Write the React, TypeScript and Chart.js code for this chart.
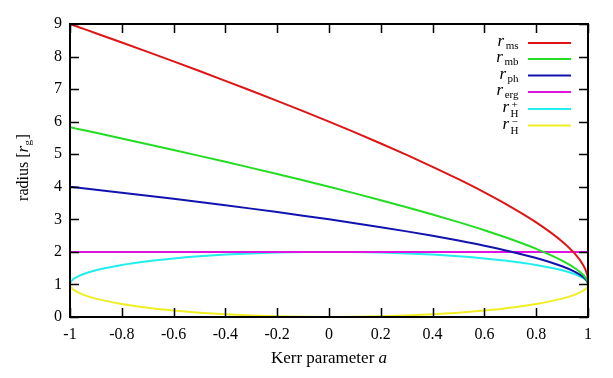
import { useEffect, useRef } from "react";
import { Chart, registerables } from "chart.js";

Chart.register(...registerables);

// Kerr spin parameter a
const spin = [
  -1, -0.999, -0.995, -0.99, -0.98, -0.95, -0.9, -0.8, -0.7, -0.6, -0.5, -0.4, -0.3, -0.2, -0.1,
  0, 0.1, 0.2, 0.3, 0.4, 0.5, 0.6, 0.7, 0.8, 0.9, 0.95, 0.98, 0.99, 0.995, 0.999, 1,
];
const rMs = [
  9, 8.997, 8.985, 8.972, 8.943, 8.858, 8.717, 8.432, 8.143, 7.851, 7.555, 7.254, 6.949, 6.639, 6.323,
  6, 5.669, 5.329, 4.979, 4.614, 4.233, 3.829, 3.393, 2.907, 2.321, 1.937, 1.614, 1.455, 1.34, 1.182, 1,
];
const rMb = [
  5.828, 5.827, 5.819, 5.811, 5.794, 5.743, 5.657, 5.483, 5.308, 5.13, 4.949, 4.766, 4.58, 4.391, 4.198,
  4, 3.797, 3.589, 3.373, 3.149, 2.914, 2.665, 2.395, 2.094, 1.732, 1.497, 1.303, 1.21, 1.146, 1.064, 1,
];
const rPh = [
  4, 3.999, 3.996, 3.991, 3.982, 3.955, 3.91, 3.819, 3.725, 3.63, 3.532, 3.432, 3.329, 3.223, 3.113,
  3, 2.882, 2.759, 2.63, 2.493, 2.347, 2.189, 2.013, 1.811, 1.558, 1.386, 1.24, 1.168, 1.118, 1.053, 1,
];
const rHPlus = [
  1, 1.045, 1.1, 1.141, 1.199, 1.312, 1.436, 1.6, 1.714, 1.8, 1.866, 1.917, 1.954, 1.98, 1.995,
  2, 1.995, 1.98, 1.954, 1.917, 1.866, 1.8, 1.714, 1.6, 1.436, 1.312, 1.199, 1.141, 1.1, 1.045, 1,
];
const rHMinus = [
  1, 0.955, 0.9, 0.859, 0.801, 0.688, 0.564, 0.4, 0.286, 0.2, 0.134, 0.083, 0.046, 0.02, 0.005,
  0, 0.005, 0.02, 0.046, 0.083, 0.134, 0.2, 0.286, 0.4, 0.564, 0.688, 0.801, 0.859, 0.9, 0.955, 1,
];
const ergSpin = [-1, 1];
const rErg = [2, 2];

const xTicks = [-1, -0.8, -0.6, -0.4, -0.2, 0, 0.2, 0.4, 0.6, 0.8, 1];
const yTicks = [0, 1, 2, 3, 4, 5, 6, 7, 8, 9];

const legendSubs = ["ms", "mb", "ph", "erg", "H", "H"];
const legendSups = ["", "", "", "", "+", "\u2212"];
const colors = ["#e01414", "#22dd22", "#1212b0", "#e014e0", "#22eeee", "#eeee22"];

const SERIF = '"Liberation Serif", "DejaVu Serif", serif';

const pts = (xs: number[], ys: number[]) => xs.map((x, i) => ({ x, y: ys[i] }));

function drawR(ctx: CanvasRenderingContext2D, xRight: number, y: number, sub: string, sup: string) {
  ctx.font = `italic 17px ${SERIF}`;
  const wr = ctx.measureText("r").width;
  ctx.font = `11px ${SERIF}`;
  const ws = Math.max(ctx.measureText(sub).width, sup ? ctx.measureText(sup).width : 0);
  const x0 = xRight - wr - ws - 1;
  ctx.textAlign = "left";
  ctx.textBaseline = "alphabetic";
  ctx.font = `italic 17px ${SERIF}`;
  ctx.fillText("r", x0, y + 3);
  ctx.font = `11px ${SERIF}`;
  const xs = x0 + wr + 1.5;
  if (sup) {
    const wsup = ctx.measureText(sup).width;
    const wsub = ctx.measureText(sub).width;
    ctx.fillText(sup, xs + (ws - wsup) / 2, y - 1);
    ctx.fillText(sub, xs + (ws - wsub) / 2, y + 8);
  } else {
    ctx.fillText(sub, xs, y + 6);
  }
}

const framePlugin = {
  id: "frame",
  afterDatasetsDraw(chart: any) {
    const { ctx, chartArea, scales } = chart;
    const { left, right, top, bottom } = chartArea;
    const xs = scales.x;
    const ys = scales.y;
    ctx.save();
    ctx.strokeStyle = "#000";
    ctx.lineWidth = 1.5;
    ctx.beginPath();
    for (const v of xTicks) {
      const px = Math.round(xs.getPixelForValue(v)) + 0.5;
      ctx.moveTo(px, bottom);
      ctx.lineTo(px, bottom - 9);
      ctx.moveTo(px, top);
      ctx.lineTo(px, top + 9);
    }
    for (const v of yTicks) {
      const py = Math.round(ys.getPixelForValue(v)) + 0.5;
      ctx.moveTo(left, py);
      ctx.lineTo(left + 9, py);
      ctx.moveTo(right, py);
      ctx.lineTo(right - 9, py);
    }
    ctx.stroke();
    ctx.lineWidth = 2;
    ctx.strokeRect(left, top, right - left, bottom - top);

    // legend
    ctx.fillStyle = "#000";
    const rows = [43, 59, 75.5, 92, 109, 125.5];
    rows.forEach((ry, i) => {
      drawR(ctx, 518, ry, legendSubs[i], legendSups[i]);
      ctx.strokeStyle = colors[i];
      ctx.lineWidth = 2;
      ctx.beginPath();
      ctx.moveTo(528, ry);
      ctx.lineTo(571, ry);
      ctx.stroke();
    });

    // x title
    ctx.fillStyle = "#000";
    ctx.textBaseline = "alphabetic";
    ctx.font = `17px ${SERIF}`;
    const t1 = "Kerr parameter ";
    const w1 = ctx.measureText(t1).width;
    ctx.font = `italic 17px ${SERIF}`;
    const w2 = ctx.measureText("a").width;
    const cx = (left + right) / 2;
    const sx = cx - (w1 + w2) / 2;
    ctx.textAlign = "left";
    ctx.font = `17px ${SERIF}`;
    ctx.fillText(t1, sx, 363);
    ctx.font = `italic 17px ${SERIF}`;
    ctx.fillText("a", sx + w1, 363);

    // y title (rotated)
    ctx.save();
    ctx.translate(28, (top + bottom) / 2 - 3);
    ctx.rotate(-Math.PI / 2);
    ctx.font = `16px ${SERIF}`;
    const a1 = "radius [";
    const wa1 = ctx.measureText(a1).width;
    ctx.font = `italic 17px ${SERIF}`;
    const wr = ctx.measureText("r").width;
    ctx.font = `11px ${SERIF}`;
    const wg = ctx.measureText("g").width;
    ctx.font = `16px ${SERIF}`;
    const wb = ctx.measureText("]").width;
    const total = wa1 + wr + wg + 1 + wb;
    let px = -total / 2;
    ctx.fillText(a1, px, 0);
    px += wa1;
    ctx.font = `italic 17px ${SERIF}`;
    ctx.fillText("r", px, 0);
    px += wr + 0.5;
    ctx.font = `11px ${SERIF}`;
    ctx.fillText("g", px, 3);
    px += wg + 0.5;
    ctx.font = `16px ${SERIF}`;
    ctx.fillText("]", px, 0);
    ctx.restore();

    ctx.restore();
  },
};

export default function App() {
  const ref = useRef<HTMLCanvasElement | null>(null);
  useEffect(() => {
    if (!ref.current) return;
    const mk = (label: string, xs: number[], ys: number[], color: string) => ({
      label,
      data: pts(xs, ys),
      borderColor: color,
      backgroundColor: color,
      borderWidth: 2,
      pointRadius: 0,
      showLine: true,
      cubicInterpolationMode: "monotone" as const,
      fill: false,
    });
    const chart = new Chart(ref.current, {
      type: "scatter",
      data: {
        datasets: [
          mk("r_ms", spin, rMs, colors[0]),
          mk("r_mb", spin, rMb, colors[1]),
          mk("r_ph", spin, rPh, colors[2]),
          mk("r_erg", ergSpin, rErg, colors[3]),
          mk("r_H+", spin, rHPlus, colors[4]),
          mk("r_H-", spin, rHMinus, colors[5]),
        ],
      },
      options: {
        animation: false,
        responsive: true,
        maintainAspectRatio: false,
        layout: { padding: { left: 0, top: 24, right: 25, bottom: 0 } },
        plugins: { legend: { display: false }, tooltip: { enabled: false } },
        scales: {
          x: {
            type: "linear",
            min: -1,
            max: 1,
            afterFit: (s: any) => {
              s.height = 61;
            },
            afterBuildTicks: (s: any) => {
              s.ticks = xTicks.map((v) => ({ value: v }));
            },
            ticks: {
              color: "#000",
              padding: 8,
              font: { family: SERIF, size: 16 },
              callback: (v: any) => String(Math.round(Number(v) * 10) / 10),
            },
            grid: { display: false, drawTicks: false },
            border: { display: false },
          },
          y: {
            type: "linear",
            min: 0,
            max: 9,
            afterFit: (s: any) => {
              s.width = 70;
            },
            afterBuildTicks: (s: any) => {
              s.ticks = yTicks.map((v) => ({ value: v }));
            },
            ticks: {
              color: "#000",
              padding: 8,
              font: { family: SERIF, size: 16 },
              callback: (v: any) => String(v),
            },
            grid: { display: false, drawTicks: false },
            border: { display: false },
          },
        },
      },
      plugins: [framePlugin],
    });
    return () => chart.destroy();
  }, []);
  return (
    <div style={{ position: "fixed", left: 0, top: 0, width: 613, height: 378, background: "#fff" }}>
      <canvas ref={ref} />
    </div>
  );
}
